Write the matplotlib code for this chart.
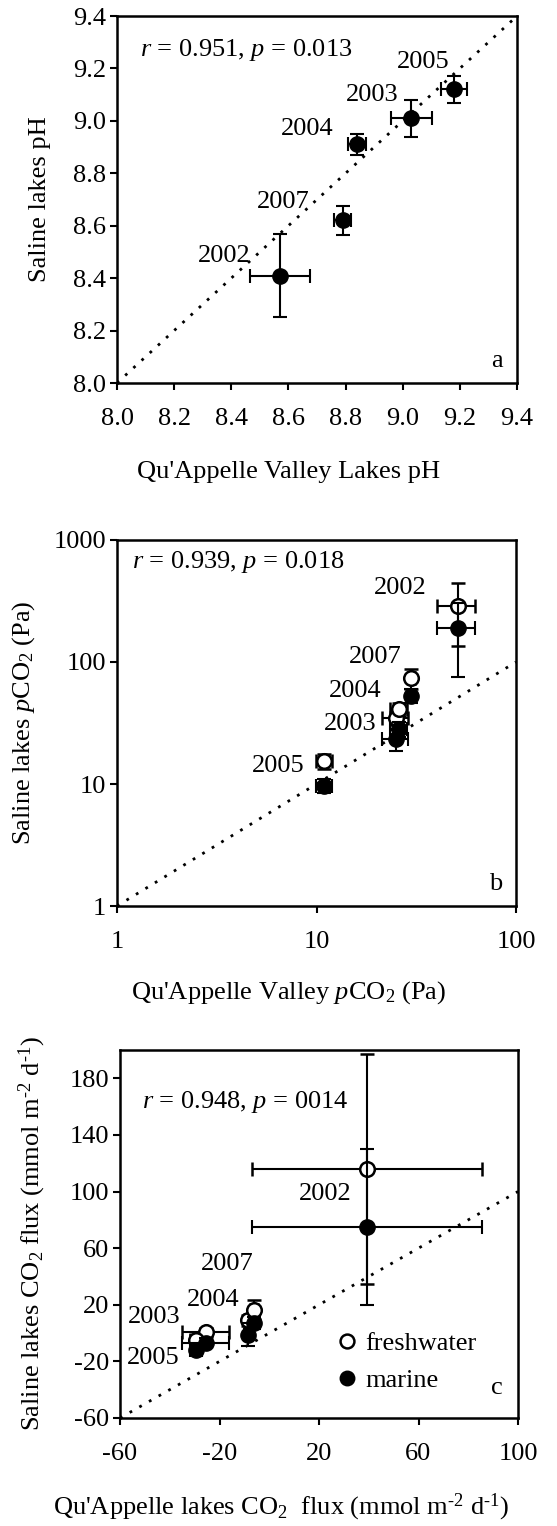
import numpy as np
import matplotlib
matplotlib.use("Agg")
import matplotlib.pyplot as plt
from matplotlib.ticker import FixedLocator, FixedFormatter, NullLocator

plt.rcParams['font.family'] = ['Liberation Serif', 'DejaVu Serif']
plt.rcParams['mathtext.fontset'] = 'custom'
plt.rcParams['mathtext.rm'] = 'Liberation Serif'
plt.rcParams['mathtext.it'] = 'Liberation Serif:italic'
plt.rcParams['axes.unicode_minus'] = False
FS = 19
plt.rcParams['font.size'] = FS

years = ['2002', '2003', '2004', '2005', '2007']

# panel a: pH
ph_qa = [8.57, 9.03, 8.84, 9.18, 8.79]
ph_qa_err = [0.105, 0.072, 0.03, 0.045, 0.03]
ph_sal = [8.41, 9.01, 8.91, 9.12, 8.62]
ph_sal_err = [0.16, 0.07, 0.04, 0.05, 0.055]

# panel b: pCO2 (Pa)
pco2_qa = [51, 25.0, 25.8, 10.9, 29.8]
pco2_qa_err = [11, 3.8, 2.5, 1.0, 1.2]
pco2_fresh = [290, 34.6, 40.9, 15.5, 74]
pco2_fresh_err = [155, 4, 5, 2.2, 14]
pco2_marine = [189, 23.3, 28.3, 9.7, 53]
pco2_marine_err = [114, 4.6, 4, 1.2, 7]

# panel c: CO2 flux (mmol m-2 d-1)
flux_qa = [39.4, -25.5, -8.5, -29.5, -6.2]
flux_qa_err = [46.3, 9.5, 1.5, 2.5, 1.5]
flux_fresh = [116, 0.5, 9, -4.7, 16.6]
flux_fresh_err = [81.5, 3, 4, 3, 7]
flux_marine = [75, -6.8, -1.1, -12, 7.2]
flux_marine_err = [55, 3, 8, 3, 4]

# label offsets (points) from the first plotted point of each year
off_a = [(-40, 14), (-28, 17), (-36, 11), (-22, 20), (-43, 13)]
off_b = [(-41, 13), (-33, -4), (-31, 13), (-33, -4), (-26, 15)]
off_c = [(-30, -18), (-37, 11), (-25, 15), (-31, -13), (-19, 33)]

W, H = 557, 1526
fig = plt.figure(figsize=(W / 100, H / 100), dpi=100)


def make_ax(l, r, t, b):
    return fig.add_axes([l / W, 1 - b / H, (r - l) / W, (b - t) / H])


axa = make_ax(117, 517, 16, 383)
axb = make_ax(117, 516, 540, 906)
axc = make_ax(120, 518, 1050, 1418)

eb = dict(ecolor='black', elinewidth=1.5, capsize=5, capthick=1.5, ls='none')
closed = dict(marker='o', mfc='black', mec='black', ms=11)
opened = dict(marker='o', mfc='white', mec='black', mew=1.8, ms=10.5)

for ax in (axa, axb, axc):
    for s in ax.spines.values():
        s.set_linewidth(1.8)
    ax.tick_params(direction='out', length=5, width=1.5, top=False, right=False,
                   labelsize=FS)
    ax.tick_params(axis='y', pad=3)
    ax.tick_params(axis='x', pad=13)

dots = dict(color='black', lw=2, ls=(0, (1, 3)))

# ---- a
axa.plot([8.0, 9.4], [8.0, 9.4], **dots)
axa.errorbar(ph_qa, ph_sal, xerr=ph_qa_err, yerr=ph_sal_err, **eb, **closed, zorder=3)
for i, yr in enumerate(years):
    axa.annotate(yr, (ph_qa[i], ph_sal[i]), xytext=off_a[i], textcoords='offset points',
                 ha='center', va='center', fontsize=FS)
axa.set_xlim(8.0, 9.4)
axa.set_ylim(8.0, 9.4)
ticks_a = np.arange(8.0, 9.41, 0.2)
axa.set_xticks(ticks_a)
axa.set_yticks(ticks_a)
axa.set_xticklabels([f'{t:.1f}' for t in ticks_a])
axa.set_yticklabels([f'{t:.1f}' for t in ticks_a])
axa.text(0.0575, 0.907, '$r$ = 0.951, $p$ = 0.013', transform=axa.transAxes,
         ha='left', va='center', fontsize=FS)
axa.text(0.95, 0.06, 'a', transform=axa.transAxes, ha='center', va='center', fontsize=FS)
axa.set_xlabel("Qu'Appelle Valley Lakes pH", fontsize=FS)
axa.set_ylabel('Saline lakes pH', fontsize=FS)
axa.xaxis.set_label_coords(0.43, -0.212)
axa.yaxis.set_label_coords(-0.165, 0.5)

# ---- b
axb.set_xscale('log')
axb.set_yscale('log')
axb.plot([1, 100], [1, 100], **dots)
axb.errorbar(pco2_qa, pco2_fresh, xerr=pco2_qa_err, yerr=pco2_fresh_err, **eb, **opened, zorder=3)
axb.errorbar(pco2_qa, pco2_marine, xerr=pco2_qa_err, yerr=pco2_marine_err, **eb, **closed, zorder=4)
for i, yr in enumerate(years):
    axb.annotate(yr, (pco2_qa[i], pco2_fresh[i]), xytext=off_b[i], textcoords='offset points',
                 ha='center', va='center', fontsize=FS)
axb.set_xlim(1, 100)
axb.set_ylim(1, 1000)
axb.xaxis.set_major_locator(FixedLocator([1, 10, 100]))
axb.xaxis.set_major_formatter(FixedFormatter(['1', '10', '100']))
axb.yaxis.set_major_locator(FixedLocator([1, 10, 100, 1000]))
axb.yaxis.set_major_formatter(FixedFormatter(['1', '10', '100', '1000']))
axb.xaxis.set_minor_locator(NullLocator())
axb.yaxis.set_minor_locator(NullLocator())
axb.text(0.037, 0.941, '$r$ = 0.939, $p$ = 0.018', transform=axb.transAxes,
         ha='left', va='center', fontsize=FS)
axb.text(0.95, 0.06, 'b', transform=axb.transAxes, ha='center', va='center', fontsize=FS)
axb.set_xlabel("Qu'Appelle Valley $p$CO$_2$ (Pa)", fontsize=FS)
axb.set_ylabel('Saline lakes $p$CO$_2$ (Pa)', fontsize=FS)
axb.xaxis.set_label_coords(0.43, -0.2)
axb.yaxis.set_label_coords(-0.2, 0.5)

# ---- c
axc.plot([-60, 100], [-60, 100], **dots)
h_f = axc.errorbar(flux_qa, flux_fresh, xerr=flux_qa_err, yerr=flux_fresh_err, **eb, **opened, zorder=3)
h_m = axc.errorbar(flux_qa, flux_marine, xerr=flux_qa_err, yerr=flux_marine_err, **eb, **closed, zorder=4)
for i, yr in enumerate(years):
    axc.annotate(yr, (flux_qa[i], flux_fresh[i]), xytext=off_c[i], textcoords='offset points',
                 ha='center', va='center', fontsize=FS)
axc.set_xlim(-60, 100)
axc.set_ylim(-60, 200)
axc.set_xticks([-60, -20, 20, 60, 100])
axc.set_yticks([-60, -20, 20, 60, 100, 140, 180])
axc.text(0.0545, 0.86, '$r$ = 0.948, $p$ = 0014', transform=axc.transAxes,
         ha='left', va='center', fontsize=FS)
axc.text(0.946, 0.081, 'c', transform=axc.transAxes, ha='center', va='center', fontsize=FS)
axc.legend([h_f[0], h_m[0]], ['freshwater', 'marine'], loc='lower right',
           bbox_to_anchor=(0.93, 0.035), frameon=False, fontsize=FS, handlelength=0.8,
           handletextpad=0.3, labelspacing=0.5, borderpad=0, markerscale=0.95)
axc.set_xlabel(r"Qu'Appelle lakes CO$_2$  flux (mmol m$^{\text{-2}}$ d$^{\text{-1}}$)", fontsize=FS)
axc.set_ylabel(r'Saline lakes CO$_2$ flux (mmol m$^{\text{-2}}$ d$^{\text{-1}}$)', fontsize=FS)
axc.xaxis.set_label_coords(0.405, -0.2)
axc.yaxis.set_label_coords(-0.18, 0.5)

fig.savefig('out.png', dpi=100)
